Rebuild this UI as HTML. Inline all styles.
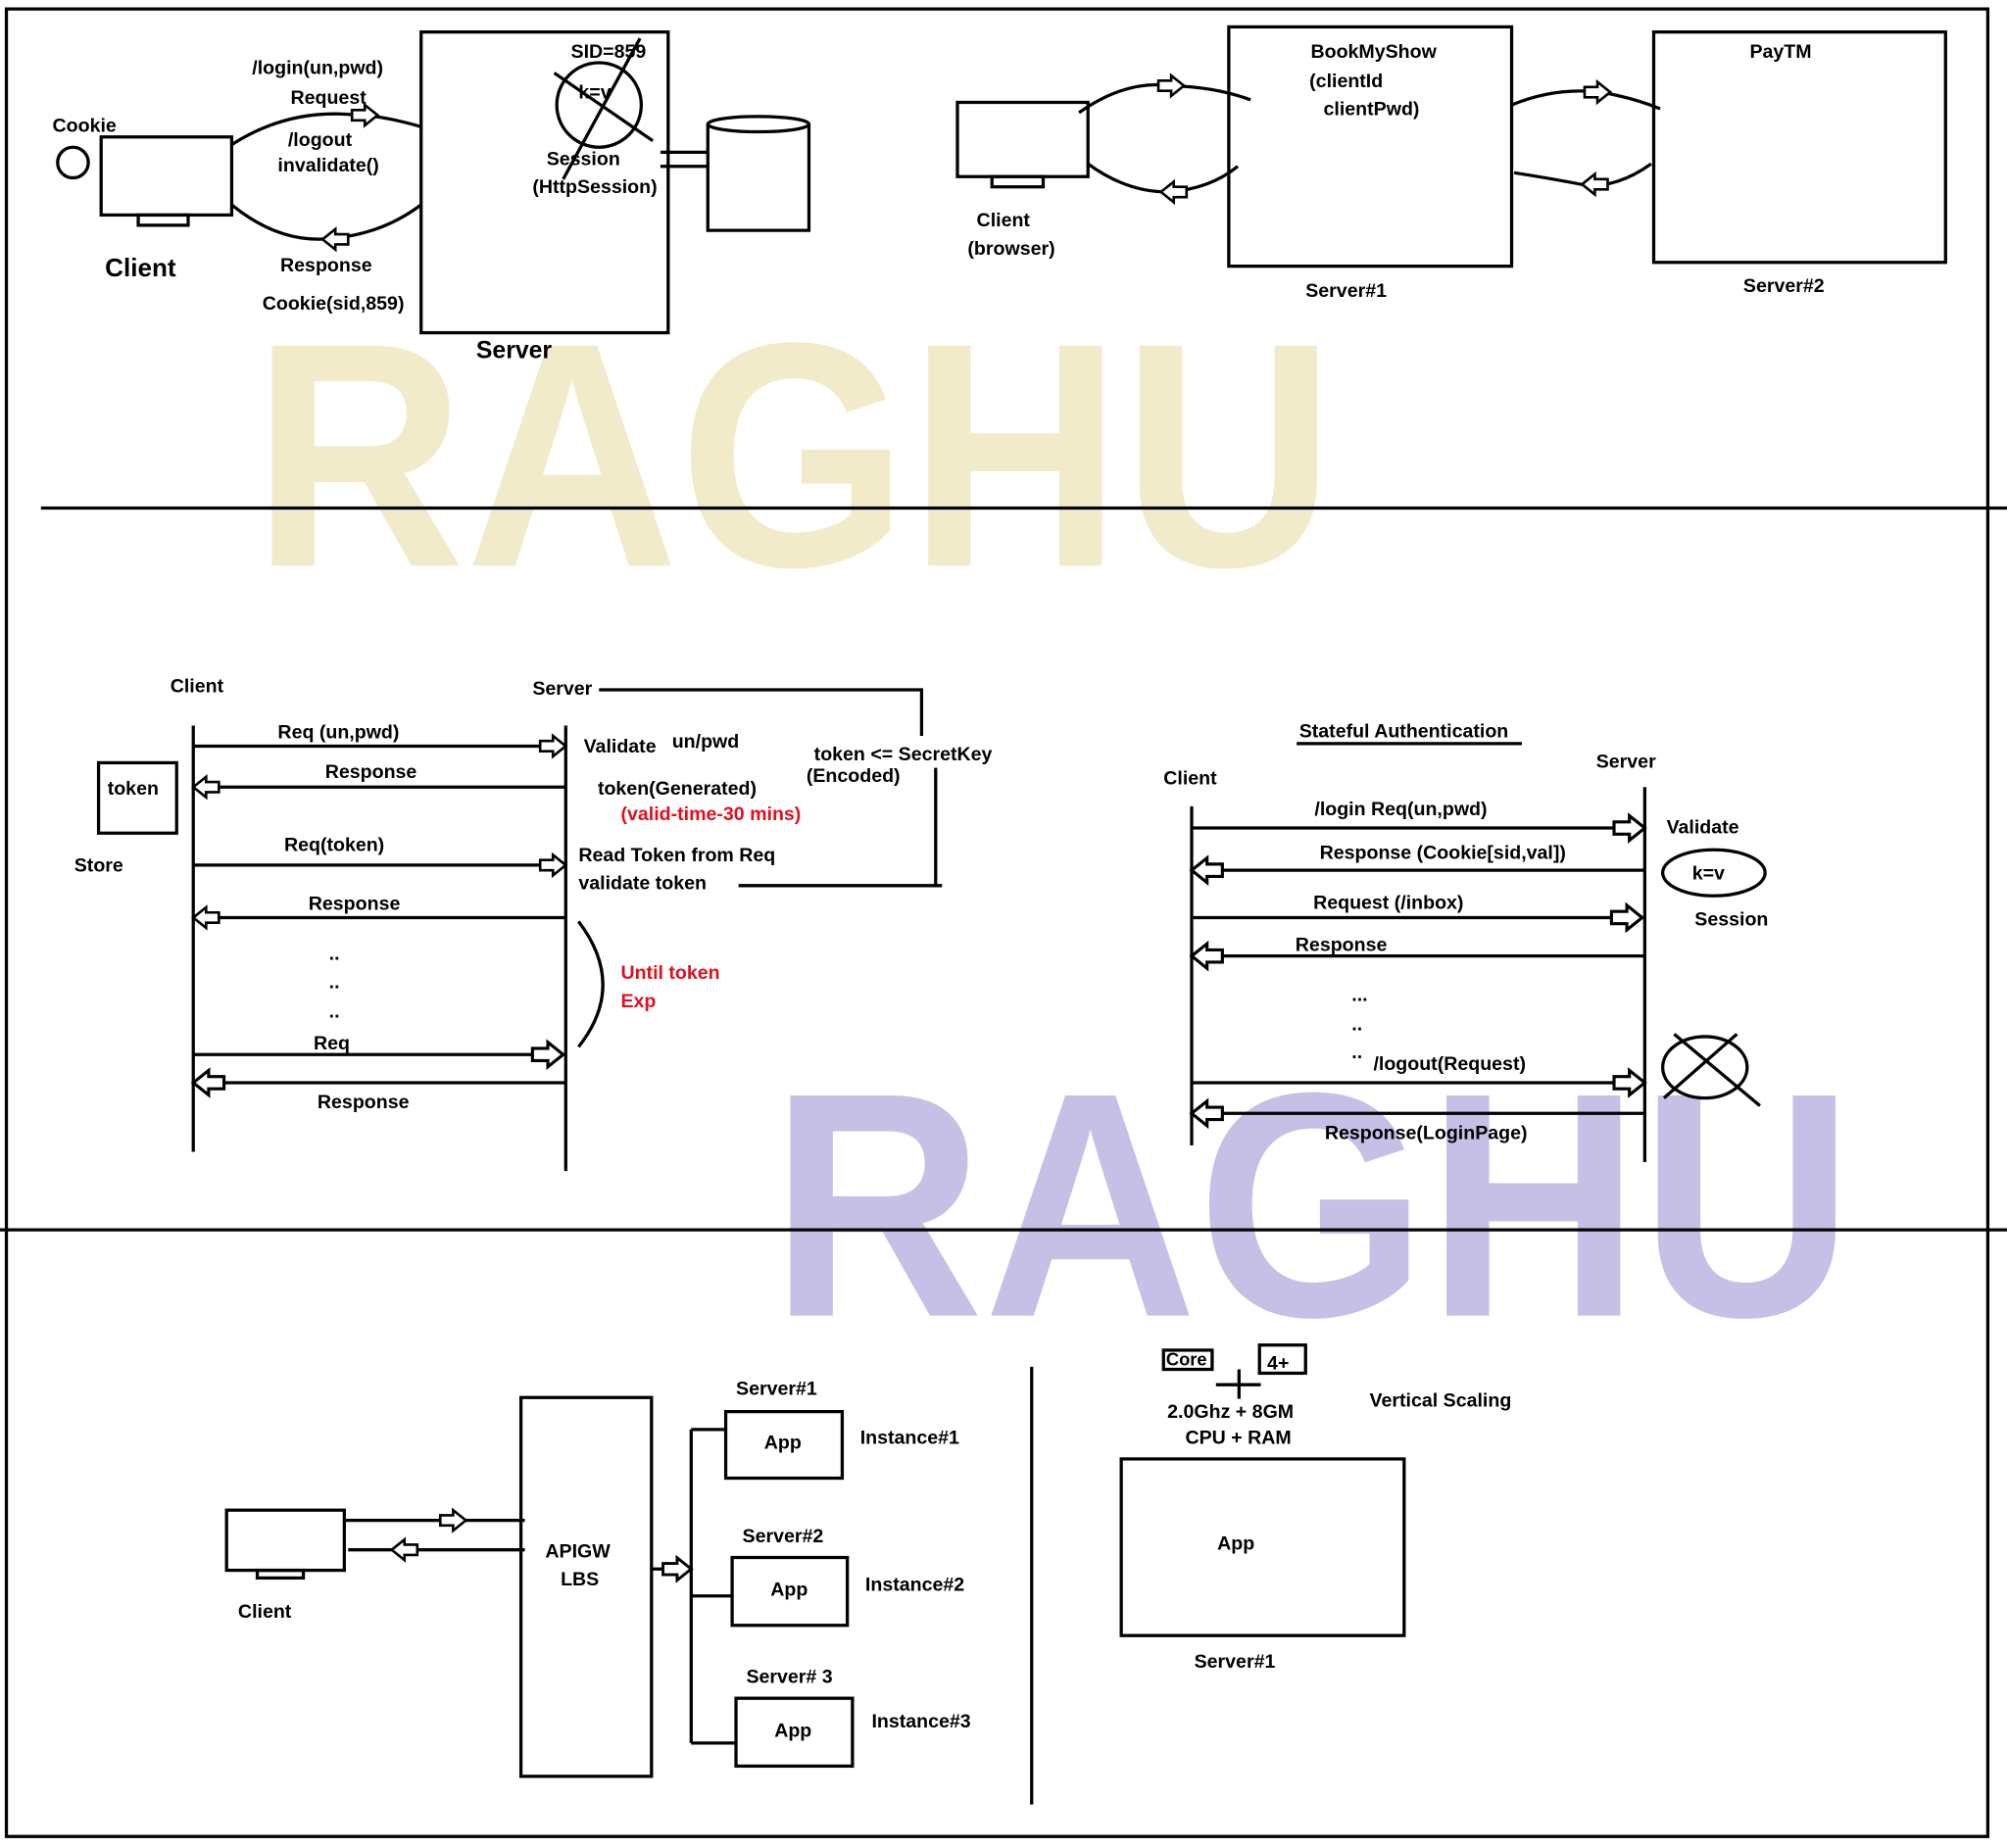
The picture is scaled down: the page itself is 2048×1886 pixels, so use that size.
<!DOCTYPE html>
<html><head><meta charset="utf-8"><style>
html,body{margin:0;padding:0;background:#fff}
svg{display:block}
text{font-family:"Liberation Sans",Arial,sans-serif;font-weight:bold;font-size:15px;fill:#000}
.r{fill:#e0101e}
</style></head><body>
<svg width="2048" height="1886" viewBox="0 0 1568 1444" preserveAspectRatio="none" xmlns="http://www.w3.org/2000/svg">
<defs>
<polygon id="ar" points="-20,-4 -10,-4 -10,-8 0,0 -10,8 -10,4 -20,4 -20,-4" fill="#fff" stroke="#000" stroke-width="2"/>
</defs>
<rect width="1568" height="1444" fill="#fff"/>
<!-- watermarks -->
<text x="197" y="442" textLength="846" lengthAdjust="spacingAndGlyphs" style="font-size:250px;fill:#f2ebc9">RAGHU</text>
<text x="602" y="1028" textLength="846" lengthAdjust="spacingAndGlyphs" style="font-size:250px;fill:#c6bfe6">RAGHU</text>

<g fill="none" stroke="#000" stroke-width="2.5">
<rect x="5" y="7" width="1548" height="1428"/>
<line x1="32" y1="397" x2="1568" y2="397"/>
<line x1="0" y1="961" x2="1568" y2="961"/>

<!-- Section 1 left -->
<circle cx="57" cy="127" r="12"/>
<rect x="79" y="107" width="102" height="61"/>
<rect x="108" y="168" width="39" height="8"/>
<path d="M181,113 Q220,88 265,89 L285,90 Q305,92 329,99"/>
<path d="M181,160 Q220,192 262,186 Q300,182 329,160"/>
<rect x="329" y="25" width="193" height="235"/>
<circle cx="468" cy="82" r="33"/>
<line x1="433" y1="57" x2="510" y2="110"/>
<line x1="500" y1="30" x2="440" y2="140"/>
<line x1="516" y1="119" x2="553" y2="119"/>
<line x1="516" y1="130" x2="553" y2="130"/>
<path d="M553,97 L553,180 L632,180 L632,97"/>
<ellipse cx="592.5" cy="97" rx="39.5" ry="6"/>

<!-- Section 1 right -->
<rect x="748" y="80" width="102" height="58"/>
<rect x="775" y="138" width="40" height="8"/>
<path d="M843,88 Q880,62 915,67 Q950,68 977,78"/>
<path d="M850,128 Q880,150 912,150 Q945,148 967,130"/>
<rect x="960" y="21" width="221" height="187"/>
<path d="M1181,82 Q1215,68 1250,72 Q1275,76 1297,85"/>
<path d="M1183,135 Q1215,140 1240,145 Q1265,146 1290,128"/>
<rect x="1292" y="25" width="228" height="180"/>

<!-- Section 2 left -->
<line x1="151" y1="567" x2="151" y2="900"/>
<line x1="442" y1="567" x2="442" y2="915"/>
<path d="M468,539 L720,539 L720,575"/>
<path d="M577,692 L736,692 M731,600 L731,692"/>
<line x1="151" y1="583" x2="430" y2="583"/>
<line x1="162" y1="615" x2="442" y2="615"/>
<line x1="151" y1="676" x2="430" y2="676"/>
<line x1="162" y1="717" x2="442" y2="717"/>
<line x1="151" y1="824" x2="430" y2="824"/>
<line x1="162" y1="846" x2="442" y2="846"/>
<rect x="77" y="596" width="61" height="55"/>
<path d="M452,720 Q490,770 452,818"/>

<!-- Stateful -->
<line x1="1013" y1="581" x2="1189" y2="581"/>
<line x1="931" y1="630" x2="931" y2="895"/>
<line x1="1285" y1="615" x2="1285" y2="908"/>
<line x1="931" y1="647" x2="1275" y2="647"/>
<line x1="942" y1="680" x2="1285" y2="680"/>
<line x1="931" y1="717" x2="1275" y2="717"/>
<line x1="942" y1="747" x2="1285" y2="747"/>
<line x1="931" y1="846" x2="1275" y2="846"/>
<line x1="942" y1="870" x2="1285" y2="870"/>
<ellipse cx="1339" cy="682" rx="40" ry="18"/>
<ellipse cx="1332" cy="834" rx="33" ry="24"/>
<line x1="1300" y1="858" x2="1357" y2="808"/>
<line x1="1308" y1="808" x2="1375" y2="864"/>

<!-- Section 3 -->
<rect x="177" y="1180" width="92" height="47"/>
<rect x="201" y="1227" width="36" height="6"/>
<line x1="269" y1="1188" x2="410" y2="1188"/>
<line x1="272" y1="1211" x2="410" y2="1211"/>
<rect x="407" y="1092" width="102" height="296"/>
<line x1="509" y1="1226" x2="525" y2="1226"/>
<line x1="540" y1="1117" x2="540" y2="1362"/>
<line x1="540" y1="1117" x2="567" y2="1117"/>
<line x1="540" y1="1247" x2="572" y2="1247"/>
<line x1="540" y1="1362" x2="575" y2="1362"/>
<rect x="567" y="1103" width="91" height="52"/>
<rect x="572" y="1217" width="90" height="53"/>
<rect x="575" y="1327" width="91" height="53"/>
<line x1="806" y1="1068" x2="806" y2="1410"/>
<rect x="909" y="1055" width="38" height="15"/>
<rect x="984" y="1051" width="36" height="22"/>
<line x1="950" y1="1082" x2="985" y2="1082"/>
<line x1="968" y1="1070" x2="968" y2="1093"/>
<rect x="876" y="1140" width="221" height="138"/>
</g>

<!-- arrowheads -->
<use href="#ar" transform="translate(295,90)"/>
<use href="#ar" transform="translate(252,187) rotate(180)"/>
<use href="#ar" transform="translate(925,67)"/>
<use href="#ar" transform="translate(907,150) rotate(180)"/>
<use href="#ar" transform="translate(1258,72)"/>
<use href="#ar" transform="translate(1236,144) rotate(180)"/>
<use href="#ar" transform="translate(442,583)"/>
<use href="#ar" transform="translate(151,615) rotate(180)"/>
<use href="#ar" transform="translate(442,676)"/>
<use href="#ar" transform="translate(151,717) rotate(180)"/>
<use href="#ar" transform="translate(440,824) scale(1.2)"/>
<use href="#ar" transform="translate(151,846) scale(-1.2,1.2)"/>
<use href="#ar" transform="translate(1285,647) scale(1.2)"/>
<use href="#ar" transform="translate(931,680) scale(-1.2,1.2)"/>
<use href="#ar" transform="translate(1283,717) scale(1.2)"/>
<use href="#ar" transform="translate(931,747) scale(-1.2,1.2)"/>
<use href="#ar" transform="translate(1285,846) scale(1.2)"/>
<use href="#ar" transform="translate(931,870) scale(-1.2,1.2)"/>
<use href="#ar" transform="translate(364,1188)"/>
<use href="#ar" transform="translate(306,1211) rotate(180)"/>
<use href="#ar" transform="translate(540,1226) scale(1.1)"/>

<!-- text section 1 -->
<text x="41" y="103">Cookie</text>
<text x="82" y="216" style="font-size:20px">Client</text>
<text x="197" y="58">/login(un,pwd)</text>
<text x="227" y="81">Request</text>
<text x="225" y="114">/logout</text>
<text x="217" y="134">invalidate()</text>
<text x="219" y="212">Response</text>
<text x="205" y="242">Cookie(sid,859)</text>
<text x="372" y="280" style="font-size:19px">Server</text>
<text x="446" y="45">SID=859</text>
<text x="452" y="77">k=v</text>
<text x="427" y="129">Session</text>
<text x="416" y="151">(HttpSession)</text>
<text x="763" y="177">Client</text>
<text x="756" y="199">(browser)</text>
<text x="1024" y="45">BookMyShow</text>
<text x="1023" y="68">(clientId</text>
<text x="1034" y="90">clientPwd)</text>
<text x="1020" y="232">Server#1</text>
<text x="1367" y="45">PayTM</text>
<text x="1362" y="228">Server#2</text>

<!-- text section 2 -->
<text x="133" y="541">Client</text>
<text x="416" y="543">Server</text>
<text x="217" y="577">Req (un,pwd)</text>
<text x="254" y="608">Response</text>
<text x="84" y="621">token</text>
<text x="58" y="681">Store</text>
<text x="222" y="665">Req(token)</text>
<text x="241" y="711">Response</text>
<text x="257" y="750">..</text>
<text x="257" y="772">..</text>
<text x="257" y="795">..</text>
<text x="245" y="820">Req</text>
<text x="248" y="866">Response</text>
<text x="456" y="588">Validate</text>
<text x="525" y="584">un/pwd</text>
<text x="467" y="621">token(Generated)</text>
<text x="485" y="641" class="r">(valid-time-30 mins)</text>
<text x="452" y="673">Read Token from Req</text>
<text x="452" y="695">validate token</text>
<text x="636" y="594">token &lt;= SecretKey</text>
<text x="630" y="611">(Encoded)</text>
<text x="485" y="765" class="r">Until token</text>
<text x="485" y="787" class="r">Exp</text>

<text x="1015" y="576">Stateful Authentication</text>
<text x="909" y="613">Client</text>
<text x="1247" y="600">Server</text>
<text x="1027" y="637">/login Req(un,pwd)</text>
<text x="1031" y="671">Response (Cookie[sid,val])</text>
<text x="1026" y="710">Request (/inbox)</text>
<text x="1012" y="743">Response</text>
<text x="1056" y="782">...</text>
<text x="1056" y="805">..</text>
<text x="1056" y="827">..</text>
<text x="1073" y="836">/logout(Request)</text>
<text x="1035" y="890">Response(LoginPage)</text>
<text x="1302" y="651">Validate</text>
<text x="1322" y="687">k=v</text>
<text x="1324" y="723">Session</text>

<!-- text section 3 -->
<text x="186" y="1264">Client</text>
<text x="426" y="1217">APIGW</text>
<text x="438" y="1239">LBS</text>
<text x="575" y="1090">Server#1</text>
<text x="597" y="1132">App</text>
<text x="672" y="1128">Instance#1</text>
<text x="580" y="1205">Server#2</text>
<text x="602" y="1247">App</text>
<text x="676" y="1243">Instance#2</text>
<text x="583" y="1315">Server# 3</text>
<text x="605" y="1357">App</text>
<text x="681" y="1350">Instance#3</text>
<text x="911" y="1067" style="font-size:14px">Core</text>
<text x="990" y="1070">4+</text>
<text x="912" y="1108">2.0Ghz  + 8GM</text>
<text x="926" y="1128">CPU + RAM</text>
<text x="1070" y="1099">Vertical Scaling</text>
<text x="951" y="1211">App</text>
<text x="933" y="1303">Server#1</text>
</svg>
</body></html>
